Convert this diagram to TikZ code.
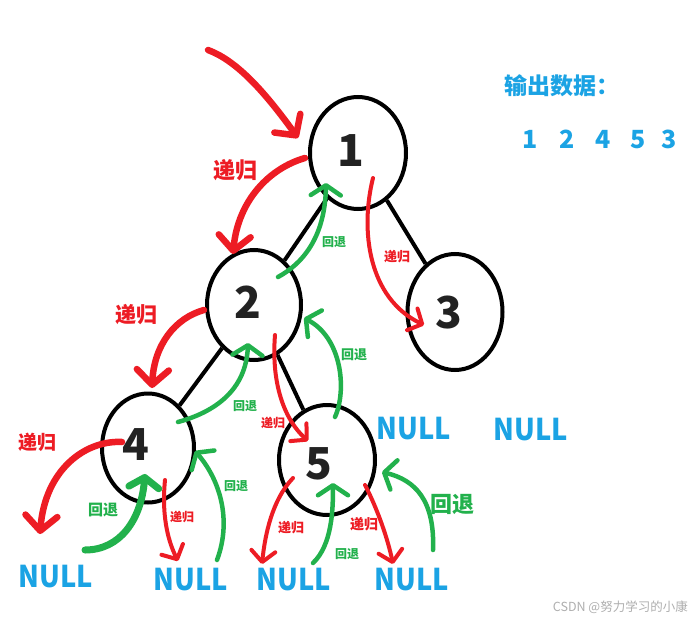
\documentclass[tikz,border=0pt]{standalone}
\usepackage{fontspec}
\newfontfamily\cjk{Noto Sans CJK SC}
\newfontfamily\nullf{Noto Sans CJK SC}[FakeStretch=0.91]
\usetikzlibrary{shapes.geometric,arrows.meta}
\definecolor{pred}{RGB}{237,28,36}
\definecolor{pgreen}{RGB}{34,177,76}
\definecolor{pblue}{RGB}{27,163,228}
\definecolor{digitc}{RGB}{34,34,34}
\definecolor{wmark}{RGB}{175,175,175}
\begin{document}
\begin{tikzpicture}[x=1pt,y=-1pt,
  tnode/.style={draw=black, line width=4pt, ellipse, inner sep=0pt},
  dig/.style={font=\cjk\bfseries\fontsize{44}{44}\selectfont, text=digitc, inner sep=0pt},
  edge/.style={draw=black, line width=4pt},
  rthick/.style={draw=pred, line width=6.5pt, line cap=round, line join=round, -{Straight Barb[length=15pt,width=32pt,round]}},
  rthin/.style={draw=pred, line width=4pt, line cap=round, line join=round, -{Straight Barb[length=11pt,width=24pt,round]}},
  gthin/.style={draw=pgreen, line width=4.5pt, line cap=round, line join=round, -{Straight Barb[length=10pt,width=30pt,round]}},
  gthick/.style={draw=pgreen, line width=7pt, line cap=round, line join=round, -{Straight Barb[length=10pt,width=30pt,round]}},
  nulltxt/.style={font=\nullf\bfseries\fontsize{30}{30}\selectfont, text=pblue, inner sep=0pt},
  rlbl/.style={font=\cjk\bfseries\fontsize{#1}{#1}\selectfont, text=pred, inner sep=0pt},
  glbl/.style={font=\cjk\bfseries\fontsize{#1}{#1}\selectfont, text=pgreen, inner sep=0pt}
]
\useasboundingbox[fill=white] (0,0) rectangle (694,624);

% tree nodes
\node[tnode, minimum width=96pt, minimum height=112pt,
  label={[dig,xshift=-7pt,yshift=2pt]center:1}] (n1) at (358,153) {};
\node[tnode, minimum width=94pt, minimum height=110pt,
  label={[dig,xshift=-6pt,yshift=3pt]center:2}] (n2) at (254,305) {};
\node[tnode, minimum width=95pt, minimum height=116pt,
  label={[dig,xshift=-6pt,yshift=-1pt]center:3}] (n3) at (455,312) {};
\node[tnode, minimum width=92pt, minimum height=109pt,
  label={[dig,xshift=-12pt,yshift=3pt]center:4}] (n4) at (148,448) {};
\node[tnode, minimum width=96pt, minimum height=110pt,
  label={[dig,xshift=-8pt,yshift=-4pt]center:5}] (n5) at (327,460) {};

\draw[edge] (n1) -- (n2);
\draw[edge] (n1) -- (n3);
\draw[edge] (n2) -- (n4);
\draw[edge] (n2) -- (n5);

% NULL labels
\node[nulltxt] (null1) at (56,577) {NULL};
\node[nulltxt] (null2) at (191,580) {NULL};
\node[nulltxt] (null3) at (294,580) {NULL};
\node[nulltxt] (null4) at (412,580) {NULL};
\node[nulltxt] (null5) at (414,429) {NULL};
\node[nulltxt] (null6) at (531,430) {NULL};

% output
\node[font=\cjk\bfseries\fontsize{23}{23}\selectfont, text=pblue, anchor=west, inner sep=0pt] (outlbl) at (504,86) {输出数据：};
\node[font=\cjk\bfseries\fontsize{25}{25}\selectfont, text=pblue, anchor=west, inner sep=0pt] (outseq) at (522,139) {1\hspace{22pt}2\hspace{21pt}4\hspace{20pt}5\hspace{15pt}3};

% red recursion arrows
\draw[rthick] (208,50) .. controls (235,60) and (262,88) .. (298,138);
\draw[rthick] (305,158) .. controls (270,168) and (238,200) .. (233,254);
\draw[rthick] (204,310) .. controls (175,318) and (154,345) .. (152,388);
\draw[rthick] (122,442) .. controls (85,440) and (45,470) .. (40,534);
\draw[rthin] (165,480) .. controls (161,520) and (170,545) .. (178,561);
\draw[rthin] (373,178) .. controls (360,230) and (368,298) .. (424,325);
\draw[rthin] (275,335) .. controls (271,385) and (285,420) .. (308,441);
\draw[rthin] (293,478) .. controls (272,500) and (265,535) .. (262,564);
\draw[rthin] (365,485) .. controls (378,510) and (388,540) .. (393,564);

% green backtrack arrows
\draw[gthin] (278,277) .. controls (302,264) and (325,238) .. (326,183);
\draw[gthin] (178,422) .. controls (215,412) and (246,390) .. (248,343);
\draw[gthin] (335,417) .. controls (347,390) and (342,338) .. (304,318);
\draw[gthick] (85,550) .. controls (120,550) and (141,520) .. (145,474);
\draw[gthin] (217,560) .. controls (232,520) and (220,480) .. (195,451);
\draw[gthin] (313,563) .. controls (332,545) and (333,510) .. (333,483);
\draw[gthin] (433,550) .. controls (435,500) and (415,480) .. (382,472);

% red labels
\node[rlbl=22] (r1) at (235,170) {递归};
\node[rlbl=21] (r2) at (136,315) {递归};
\node[rlbl=19] (r3) at (38,442) {递归};
\node[rlbl=13] (r4) at (397,257) {递归};
\node[rlbl=12] (r5) at (182,517) {递归};
\node[rlbl=12] (r6) at (273,423) {递归};
\node[rlbl=13] (r7) at (291,528) {递归};
\node[rlbl=14] (r8) at (364,524) {递归};

% green labels
\node[glbl=12] (g1) at (334,242) {回退};
\node[glbl=12] (g2) at (245,406) {回退};
\node[glbl=13] (g3) at (354,355) {回退};
\node[glbl=15] (g4) at (103,510) {回退};
\node[glbl=12] (g5) at (236,486) {回退};
\node[glbl=12] (g6) at (347,554) {回退};
\node[glbl=22] (g7) at (452,504) {回退};

% watermark
\node[font=\cjk\fontsize{12.5}{12.5}\selectfont, text=wmark, anchor=east, inner sep=0pt] (wm) at (688,607) {CSDN @努力学习的小康};
\end{tikzpicture}
\end{document}
